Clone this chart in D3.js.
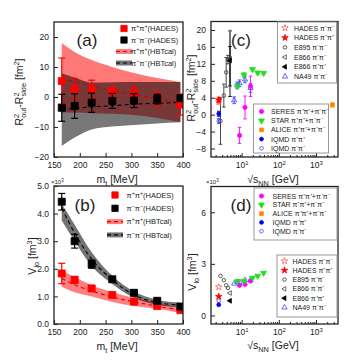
<!DOCTYPE html>
<html>
<head>
<meta charset="utf-8">
<script src="https://cdn.jsdelivr.net/npm/d3@7"></script>
<style>
  body { margin: 0; background: #fff; }
  text { font-family: "Liberation Sans", Arial, sans-serif; fill: #222; }
</style>
</head>
<body>
<svg id="chart" width="360" height="360"></svg>
<script>
// transverse mass bins [MeV]
const mt = [165, 190, 223, 263, 305, 350, 395];
const mtTicks = [150, 200, 250, 300, 350, 400];

// (a) R_out^2 - R_side^2 [fm^2]
const aPlus = [5.3, 2.7, 2.6, 1.8, 1.2, -0.7, -2.5];
const aPlusErr = [7.7, 3.5, 3.0, 1.8, 2.2, 2.3, 3.5];
const aMinus = [-3.6, -3.0, -1.9, -1.3, -1.2, -0.7, -0.4];
const aMinusErr = [4.5, 4.1, 3.2, 2.5, 2.3, 1.6, 1.0];
const aCalPlus = [6.2, 5.2, 3.6, 2.1, 0.8, -0.6, -1.8];
const aCalPlusHi = [18, 15, 12.3, 10, 8, 6.3, 5];
const aCalPlusLo = [-5.2, -5.2, -5.4, -5.6, -6, -7, -8.4];
const aCalMinus = [-4.2, -3.8, -3.3, -2.9, -2.4, -2.1, -1.8];
const aCalMinusHi = [7.9, 6.5, 4.8, 4.9, 5, 5, 5];
const aCalMinusLo = [-16.3, -13.5, -10.8, -9.8, -9.3, -8.8, -8.4];
const aTicks = [-20, -10, 0, 10, 20];

// (b) V_lo [10^3 fm^3]
const bPlus = [1.83, 1.6, 1.29, 1.05, 0.81, 0.65, 0.5];
const bPlusErr = [0.37, 0.12, 0.08, 0.06, 0.05, 0.05, 0.05];
const bMinus = [4.43, 3.0, 2.17, 1.62, 1.13, 0.84, 0.63];
const bMinusErr = [0.3, 0.25, 0.15, 0.08, 0.1, 0.1, 0.1];
const bCalPlus = [1.65, 1.42, 1.2, 0.98, 0.8, 0.65, 0.5];
const bCalPlusHi = [1.95, 1.7, 1.4, 1.15, 0.95, 0.75, 0.6];
const bCalPlusLo = [1.35, 1.15, 1.0, 0.8, 0.65, 0.55, 0.4];
const bCalMinus = [4.2, 3.3, 2.35, 1.6, 1.05, 0.78, 0.68];
const bCalMinusHi = [4.35, 3.6, 2.6, 1.75, 1.18, 0.88, 0.78];
const bCalMinusLo = [3.75, 3.0, 2.1, 1.45, 0.95, 0.7, 0.6];
const bTicks = [0, 1, 2, 3, 4, 5];

// excitation function, sqrt(s_NN) [GeV]
const rsTicks = [10, 100, 1000];
const cTicks = [-8, -4, 0, 4, 8, 12, 16, 20];
const dTicks = [0, 3, 6];

const sHades = [2.42];
const sIqmd = [2.42];
const sE895 = [2.7, 3.32, 3.84, 4.29];
const sE866 = [4.86];
const sNA49 = [6.3, 7.6, 8.8, 12.3, 17.3];
const sSeres = [8.8, 12.3, 17.3];
const sStar = [7.7, 11.5, 19.6, 27, 39];
const sAlice = [2760];

// (c) R_out^2 - R_side^2 [fm^2]
const cHadesMinus = [3.0], cHadesMinusErr = [0.5];
const cHadesPlus = [3.5], cHadesPlusErr = [0.6];
const cE895 = [-1.5, 4.5, 10.0, 13.0], cE895Err = [5.5, 2.7, 3.5, 1.0];
const cE866Minus = [13.3], cE866MinusErr = [6.5];
const cE866Plus = [12.8], cE866PlusErrLo = [8.5], cE866PlusErrHi = [3.3];
const cNA49 = [3.4, 6.9, 7.4, 8.3, 6.3], cNA49Err = [0.8, 0.8, 0.8, 0.8, 1.0];
const cSeres = [-4.9, 1.7, 6.7], cSeresErr = [1.9, 2.7, 2.4];
const cStar = [6.8, 9.4, 10.7, 9.9, 9.8], cStarErr = [0.6, 0.5, 0.3, 0.3, 0.3];
const cAlice = [2.3], cAliceErr = [0.5];
const cIqmdPlus = [0.2], cIqmdPlusErr = [0.6];
const cIqmdMinus = [-1.5], cIqmdMinusErr = [0.6];

// (d) V_lo [10^3 fm^3]
const dHadesMinus = [1.65], dHadesPlus = [1.1];
const dE895 = [2.3, 2.05, 1.75, 1.6];
const dE866Minus = [1.3], dE866Plus = [0.85];
const dNA49 = [1.85, 1.95, 1.92, 2.05, 2.05];
const dSeres = [1.75, 1.8, 2.0];
const dStar = [1.98, 2.0, 2.18, 2.3, 2.47];
const dAlice = [6.74];
const dIqmdPlus = [0.62], dIqmdMinus = [0.85];

const svg = d3.select("#chart");

const xMt = d3.scaleLinear().domain([150, 400]).range([54, 183]);
const yA = d3.scaleLinear().domain([-20, 25]).range([157, 22]);
const yB = d3.scaleLinear().domain([0, 5]).range([324, 186]);
const xS = d3.scaleLog().domain([1.5, 3900]).range([211, 338]);
const yC = d3.scaleLinear().domain([-10, 22]).range([157, 21.5]);
const yD = d3.scaleLinear().domain([-0.5, 7.5]).range([324, 186.5]);

// text with sub/superscripts: parts = [[text, "sup"|"sub"|null, dx]]
function rich(sel, parts, fs) {
    let off = 0;
    parts.forEach(([t, s, dx]) => {
        const target = s === "sup" ? -fs * 0.4 : s === "sub" ? fs * 0.28 : 0;
        const ts = sel.append("tspan").text(t).attr("dy", target - off).attr("font-size", s ? fs * 0.7 : fs);
        if (dx) ts.attr("dx", dx);
        off = target;
    });
}

function axes(x, y, yTicks, log) {
    const g = svg.append("g");
    const [x0, x1] = x.range();
    const [y0, y1] = y.range();
    const bottom = g.append("g").attr("transform", `translate(0,${y0})`)
        .call(d3.axisBottom(x).tickValues(log ? rsTicks : mtTicks).tickSize(-4).tickPadding(5).tickSizeOuter(0));
    if (log) {
        bottom.selectAll(".tick text").text("10").append("tspan")
            .attr("dy", "-0.45em").attr("font-size", "6px").text((d) => Math.round(Math.log10(d)));
        const minors = [];
        [1, 10, 100, 1000].forEach((p) => d3.range(2, 10).forEach((k) => {
            const v = k * p;
            if (v > x.domain()[0] && v < x.domain()[1]) minors.push(v);
        }));
        g.append("g").attr("transform", `translate(0,${y0})`)
            .call(d3.axisBottom(x).tickValues(minors).tickSize(-2).tickFormat("").tickSizeOuter(0));
    }
    g.append("g").attr("transform", `translate(${x0},0)`)
        .call(d3.axisLeft(y).tickValues(yTicks).tickSize(-4).tickPadding(5).tickSizeOuter(0));
    g.selectAll(".domain").remove();
    g.selectAll(".tick line").attr("stroke", "#222");
    g.selectAll(".tick text").attr("font-size", "8.5px").attr("fill", "#222")
        .attr("font-family", "'Liberation Sans', Arial, sans-serif");
    return g;
}

function frame(x, y) {
    const [x0, x1] = x.range();
    const [y0, y1] = y.range();
    svg.append("rect").attr("x", x0).attr("y", y1).attr("width", x1 - x0).attr("height", y0 - y1)
        .attr("fill", "none").attr("stroke", "#222").attr("stroke-width", 1.3);
}

function clipFor(id, x, y) {
    const [x0, x1] = x.range();
    const [y0, y1] = y.range();
    svg.append("clipPath").attr("id", id).append("rect")
        .attr("x", x0).attr("y", y1).attr("width", x1 - x0).attr("height", y0 - y1);
    return svg.append("g").attr("clip-path", `url(#${id})`);
}

function band(g, xs, lo, hi, sx, sy, fill, op) {
    g.append("path").datum(xs)
        .attr("d", d3.area().x((d) => sx(d)).y0((d, i) => sy(lo[i])).y1((d, i) => sy(hi[i])).curve(d3.curveMonotoneX))
        .attr("fill", fill).attr("fill-opacity", op);
}

function dashed(g, xs, ys, sx, sy, color) {
    g.append("path").datum(xs)
        .attr("d", d3.line().x((d) => sx(d)).y((d, i) => sy(ys[i])).curve(d3.curveMonotoneX))
        .attr("fill", "none").attr("stroke", color).attr("stroke-width", 1.1).attr("stroke-dasharray", "4,3");
}

function errBars(g, xs, ys, lo, hi, sx, sy, color, cap, sw) {
    hi = hi || lo;
    xs.forEach((xv, i) => {
        const X = sx(xv), Ya = sy(ys[i] - lo[i]), Yb = sy(ys[i] + hi[i]);
        g.append("line").attr("x1", X).attr("x2", X).attr("y1", Ya).attr("y2", Yb)
            .attr("stroke", color).attr("stroke-width", sw);
        [Ya, Yb].forEach((Yc) => g.append("line").attr("x1", X - cap).attr("x2", X + cap).attr("y1", Yc).attr("y2", Yc)
            .attr("stroke", color).attr("stroke-width", sw));
    });
}

function marker(g, X, Y, st) {
    g.append("path").attr("d", d3.symbol().type(st.sym).size(st.size)())
        .attr("transform", `translate(${X},${Y}) rotate(${st.rot || 0})`)
        .attr("fill", st.fill).attr("stroke", st.stroke).attr("stroke-width", st.sw || 0.8);
}

function points(g, xs, ys, sx, sy, st) {
    xs.forEach((xv, i) => marker(g, sx(xv), sy(ys[i]), st));
}

const st = {
    sqRed: { sym: d3.symbolSquare, size: 50, fill: "#f00", stroke: "#f00" },
    sqBlack: { sym: d3.symbolSquare, size: 50, fill: "#000", stroke: "#000" },
    hadesMinus: { sym: d3.symbolStar, size: 13, fill: "none", stroke: "#f55" },
    hadesPlus: { sym: d3.symbolStar, size: 13, fill: "#f00", stroke: "#f00" },
    e895: { sym: d3.symbolCircle, size: 10, fill: "none", stroke: "#333" },
    e866Minus: { sym: d3.symbolTriangle, size: 9, fill: "none", stroke: "#444", rot: -90 },
    e866Plus: { sym: d3.symbolTriangle, size: 10, fill: "#000", stroke: "#000", rot: -90 },
    na49: { sym: d3.symbolTriangle, size: 12, fill: "none", stroke: "#44f" },
    seres: { sym: d3.symbolCircle, size: 14, fill: "#f0f", stroke: "#f0f" },
    star: { sym: d3.symbolTriangle, size: 15, fill: "#2d2", stroke: "#2d2", rot: 180 },
    alice: { sym: d3.symbolSquare, size: 14, fill: "#f80", stroke: "#f80" },
    iqmdPlus: { sym: d3.symbolCircle, size: 12, fill: "#00f", stroke: "#00f" },
    iqmdMinus: { sym: d3.symbolCircle, size: 10, fill: "none", stroke: "#44f" },
};

// ---------- (a) ----------
axes(xMt, yA, aTicks, false);
const ga = clipFor("clipA", xMt, yA);
band(ga, mt, aCalPlusLo, aCalPlusHi, xMt, yA, "#f00", 0.53);
band(ga, mt, aCalMinusLo, aCalMinusHi, xMt, yA, "#000", 0.53);
dashed(ga, mt, aCalPlus, xMt, yA, "#c00");
dashed(ga, mt, aCalMinus, xMt, yA, "#000");
errBars(ga, mt, aPlus, aPlusErr, null, xMt, yA, "#f00", 3.5, 1.2);
points(ga, mt, aPlus, xMt, yA, st.sqRed);
errBars(ga, mt, aMinus, aMinusErr, null, xMt, yA, "#000", 3.5, 1.2);
points(ga, mt, aMinus, xMt, yA, st.sqBlack);
frame(xMt, yA);

// ---------- (b) ----------
axes(xMt, yB, bTicks, false);
const gb = clipFor("clipB", xMt, yB);
band(gb, mt, bCalPlusLo, bCalPlusHi, xMt, yB, "#f00", 0.5);
band(gb, mt, bCalMinusLo, bCalMinusHi, xMt, yB, "#000", 0.55);
dashed(gb, mt, bCalPlus, xMt, yB, "#d00");
dashed(gb, mt, bCalMinus, xMt, yB, "#000");
errBars(gb, mt, bPlus, bPlusErr, null, xMt, yB, "#f00", 3.5, 1.2);
points(gb, mt, bPlus, xMt, yB, st.sqRed);
errBars(gb, mt, bMinus, bMinusErr, null, xMt, yB, "#000", 3.5, 1.2);
points(gb, mt, bMinus, xMt, yB, st.sqBlack);
frame(xMt, yB);

// left legends
function leftLegend(y0, dy, symX, textX) {
    const g = svg.append("g");
    const labels = [["+", "HADES"], ["−", "HADES"], ["+", "HBTcal"], ["−", "HBTcal"]];
    labels.forEach(([c, src], i) => {
        const y = y0 + i * dy;
        if (i === 0) marker(g, symX, y, { sym: d3.symbolSquare, size: 40, fill: "#f00", stroke: "#f00" });
        if (i === 1) marker(g, symX, y, { sym: d3.symbolSquare, size: 40, fill: "#000", stroke: "#000" });
        if (i >= 2) {
            const red = i === 2;
            g.append("rect").attr("x", symX - 8).attr("y", y - 2.5).attr("width", 16).attr("height", 5)
                .attr("fill", red ? "#f00" : "#000").attr("fill-opacity", red ? 0.5 : 0.55);
            g.append("line").attr("x1", symX - 8).attr("x2", symX + 8).attr("y1", y).attr("y2", y)
                .attr("stroke", red ? "#d00" : "#000").attr("stroke-width", 1.1).attr("stroke-dasharray", "4,3");
        }
        const t = g.append("text").attr("x", textX).attr("y", y + 2.7);
        rich(t, [["π", null], [c, "sup"], ["π", null], [c, "sup"], [`(${src})`, null]], 7.5);
    });
}
leftLegend(28.5, 11.5, 124, 131);
leftLegend(195, 13.3, 115, 126.5);

// ---------- (c) ----------
axes(xS, yC, cTicks, true);
const gc = svg.append("g");
errBars(gc, sE866, cE866Minus, cE866MinusErr, null, xS, yC, "#777", 1.8, 2);
errBars(gc, sE895, cE895, cE895Err, null, xS, yC, "#333", 1.8, 0.9);
errBars(gc, sE866, cE866Plus, cE866PlusErrLo, cE866PlusErrHi, xS, yC, "#000", 1.8, 0.9);
errBars(gc, sHades, cHadesMinus, cHadesMinusErr, null, xS, yC, "#f55", 1.8, 0.9);
errBars(gc, sHades, cHadesPlus, cHadesPlusErr, null, xS, yC, "#f00", 1.8, 0.9);
errBars(gc, sIqmd, cIqmdPlus, cIqmdPlusErr, null, xS, yC, "#00f", 1.8, 0.9);
errBars(gc, sIqmd, cIqmdMinus, cIqmdMinusErr, null, xS, yC, "#44f", 1.8, 0.9);
errBars(gc, sNA49, cNA49, cNA49Err, null, xS, yC, "#44f", 1.8, 0.9);
errBars(gc, sSeres, cSeres, cSeresErr, null, xS, yC, "#f0f", 1.8, 0.9);
errBars(gc, sStar, cStar, cStarErr, null, xS, yC, "#2d2", 1.8, 0.9);
errBars(gc, sAlice, cAlice, cAliceErr, null, xS, yC, "#f80", 1.8, 0.9);
points(gc, sE895, cE895, xS, yC, st.e895);
points(gc, sE866, cE866Minus, xS, yC, st.e866Minus);
points(gc, sE866, cE866Plus, xS, yC, st.e866Plus);
points(gc, sNA49, cNA49, xS, yC, st.na49);
points(gc, sSeres, cSeres, xS, yC, st.seres);
points(gc, sStar, cStar, xS, yC, st.star);
points(gc, sAlice, cAlice, xS, yC, st.alice);
points(gc, sHades, cHadesMinus, xS, yC, st.hadesMinus);
points(gc, sHades, cHadesPlus, xS, yC, st.hadesPlus);
points(gc, sIqmd, cIqmdPlus, xS, yC, st.iqmdPlus);
points(gc, sIqmd, cIqmdMinus, xS, yC, st.iqmdMinus);
frame(xS, yC);

// ---------- (d) ----------
axes(xS, yD, dTicks, true);
const gd = svg.append("g");
points(gd, sE895, dE895, xS, yD, st.e895);
points(gd, sE866, dE866Minus, xS, yD, st.e866Minus);
points(gd, sE866, dE866Plus, xS, yD, st.e866Plus);
points(gd, sNA49, dNA49, xS, yD, st.na49);
points(gd, sSeres, dSeres, xS, yD, st.seres);
points(gd, sStar, dStar, xS, yD, st.star);
points(gd, sAlice, dAlice, xS, yD, st.alice);
points(gd, sHades, dHadesMinus, xS, yD, st.hadesMinus);
points(gd, sHades, dHadesPlus, xS, yD, st.hadesPlus);
points(gd, sIqmd, dIqmdMinus, xS, yD, st.iqmdMinus);
points(gd, sIqmd, dIqmdPlus, xS, yD, st.iqmdPlus);
frame(xS, yD);

// right legends
const legA = [[st.hadesMinus, "HADES π⁻π⁻"], [st.hadesPlus, "HADES π⁺π⁺"], [st.e895, "E895 π⁻π⁻"],
    [st.e866Minus, "E866 π⁻π⁻"], [st.e866Plus, "E866 π⁺π⁺"], [st.na49, "NA49 π⁻π⁻"]];
const legB = [[st.seres, "SERES π⁺π⁺+π⁻π⁻"], [st.star, "STAR π⁺π⁺+π⁻π⁻"], [st.alice, "ALICE π⁺π⁺+π⁻π⁻"],
    [st.iqmdPlus, "IQMD π⁺π⁺"], [st.iqmdMinus, "IQMD π⁻π⁻"]];

function boxLegend(items, bx, by, bw, bh, y0, dy, symX, textX) {
    const g = svg.append("g");
    g.append("rect").attr("x", bx).attr("y", by).attr("width", bw).attr("height", bh)
        .attr("fill", "#fff").attr("stroke", "#999").attr("stroke-width", 1);
    items.forEach(([s, label], i) => {
        marker(g, symX, y0 + i * dy, s);
        g.append("text").attr("x", textX).attr("y", y0 + i * dy + 2.5).attr("font-size", "7px").text(label);
    });
}
boxLegend(legA, 277.5, 22, 59, 61, 28, 9.7, 285, 294);
boxLegend(legB, 253.5, 104, 75, 49, 111.5, 9.2, 261.5, 271);
boxLegend(legB, 254, 188, 83, 52, 196, 8.8, 261.5, 272.5);
boxLegend(legA, 277, 255, 60, 62, 261, 9.3, 284.5, 292.5);

// panel tags
[["(a)", 87, 46], ["(b)", 85, 211], ["(c)", 241, 46], ["(d)", 241, 211]].forEach(([t, x, y]) => {
    svg.append("text").attr("x", x).attr("y", y).attr("text-anchor", "middle").attr("font-size", "17px").text(t);
});

// axis titles
const fs = 10.5;
[[117, 183], [117, 350]].forEach(([x, y]) => {
    rich(svg.append("text").attr("x", x).attr("y", y).attr("text-anchor", "middle"), [["m", null], ["t", "sub"], [" [MeV]", null]], fs);
});
[[273, 183], [273, 349]].forEach(([x, y]) => {
    rich(svg.append("text").attr("x", x).attr("y", y).attr("text-anchor", "middle"), [["√s", null], ["NN", "sub"], [" [GeV]", null]], fs);
});
const rTitle = [["R", null], ["2", "sup"], ["out", "sub", -4], ["-R", null], ["2", "sup"], ["side", "sub", -4], [" [fm", null], ["2", "sup"], ["]", null]];
const vTitle = [["V", null], ["lo", "sub"], [" [fm", null], ["3", "sup"], ["]", null]];
rich(svg.append("text").attr("transform", "translate(23,92) rotate(-90)").attr("text-anchor", "middle"), rTitle, fs);
rich(svg.append("text").attr("transform", "translate(36,256) rotate(-90)").attr("text-anchor", "middle"), vTitle, fs);
rich(svg.append("text").attr("transform", "translate(195,88) rotate(-90)").attr("text-anchor", "middle"), rTitle, fs);
rich(svg.append("text").attr("transform", "translate(196,272) rotate(-90)").attr("text-anchor", "middle"), vTitle, fs);

// x10^3 multipliers
[[51, 184], [206, 184]].forEach(([x, y]) => {
    const t = svg.append("text").attr("x", x).attr("y", y).attr("font-size", "6px").text("×10");
    t.append("tspan").attr("dy", -2).attr("font-size", "4.5px").text("3");
});
</script>
</body>
</html>
